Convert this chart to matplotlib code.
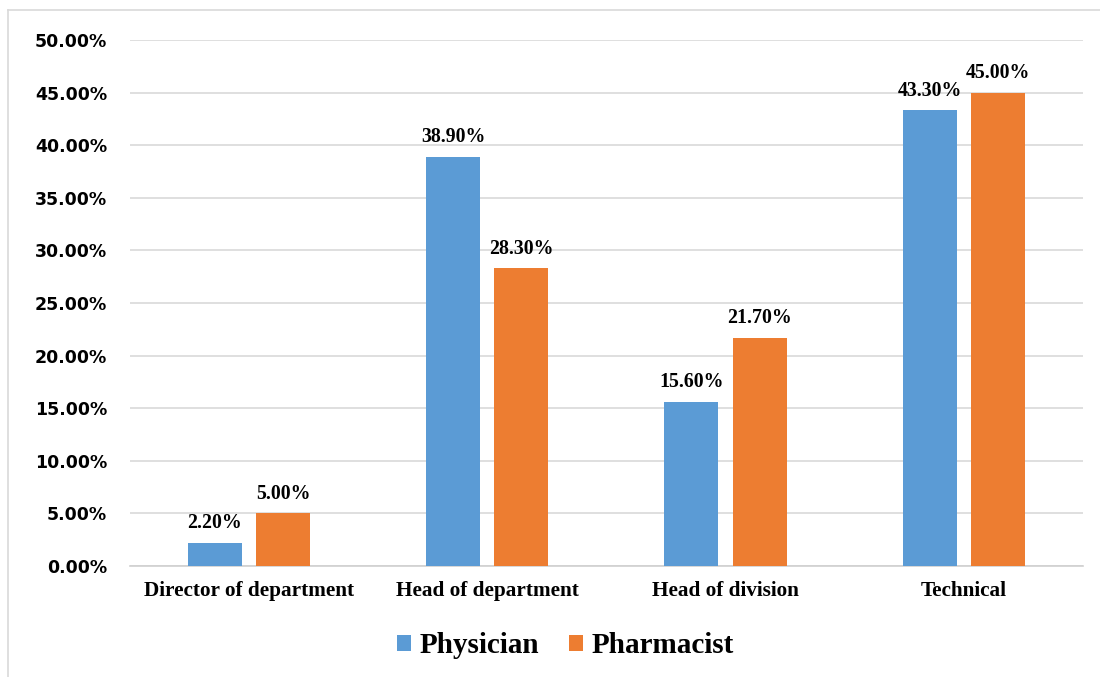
import matplotlib.pyplot as plt
from matplotlib.lines import Line2D
from matplotlib.ticker import PercentFormatter
import numpy as np

categories = ["Director of department", "Head of department", "Head of division", "Technical"]
physician = [2.2, 38.9, 15.6, 43.3]
pharmacist = [5.0, 28.3, 21.7, 45.0]
series_names = ["Physician", "Pharmacist"]
colors = ["#5b9bd5", "#ed7d31"]

serif = "Liberation Serif"

fig = plt.figure(figsize=(11, 6.77), dpi=100)
ax = fig.add_axes([0.118, 0.164, 0.8665, 0.777])

x = np.arange(len(categories))
width = 0.227
offset = 0.143
for vals, off, col, name in zip([physician, pharmacist], [-offset, offset], colors, series_names):
    b = ax.bar(x + off, [v / 100 for v in vals], width, color=col, label=name, zorder=3)
    for rect, v in zip(b, vals):
        ax.annotate(f"{v:.2f}%", (rect.get_x() + rect.get_width() / 2, rect.get_height()),
                    xytext=(0, 7), textcoords="offset points", ha="center", va="bottom",
                    fontfamily=serif, fontweight="bold", fontsize=14.3, zorder=4)

ax.set_xlim(-0.5, len(categories) - 0.5)
ax.set_ylim(0, 0.5)
ax.set_yticks(np.arange(0, 0.501, 0.05))
ax.yaxis.set_major_formatter(PercentFormatter(1.0, decimals=2))
ax.set_xticks(x)
ax.set_xticklabels(categories, fontfamily=serif, fontweight="bold", fontsize=15.3)
for lbl in ax.get_yticklabels():
    lbl.set_fontweight("bold")
    lbl.set_fontsize(12.5)
ax.tick_params(axis="both", length=0)
ax.tick_params(axis="y", pad=16.5)
ax.tick_params(axis="x", pad=11)
ax.grid(axis="y", color="#d9d9d9", linewidth=1.2, zorder=0)
for s in ["top", "right", "left"]:
    ax.spines[s].set_visible(False)
ax.spines["bottom"].set_color("#d0d0d0")
ax.spines["bottom"].set_linewidth(1.2)

ax.legend(loc="center", bbox_to_anchor=(0.514, 0.046), bbox_transform=fig.transFigure,
          ncol=2, frameon=False, handlelength=0.48, handleheight=0.48, handletextpad=0.3,
          columnspacing=1.0, prop={"family": serif, "weight": "bold", "size": 21})

# light frame around the chart area
fig.add_artist(Line2D([8 / 1100, 8 / 1100], [0, 1 - 10 / 677], color="#d9d9d9", linewidth=1.2))
fig.add_artist(Line2D([8 / 1100, 1], [1 - 10 / 677, 1 - 10 / 677], color="#d9d9d9", linewidth=1.2))

fig.savefig("out.png", dpi=100)
